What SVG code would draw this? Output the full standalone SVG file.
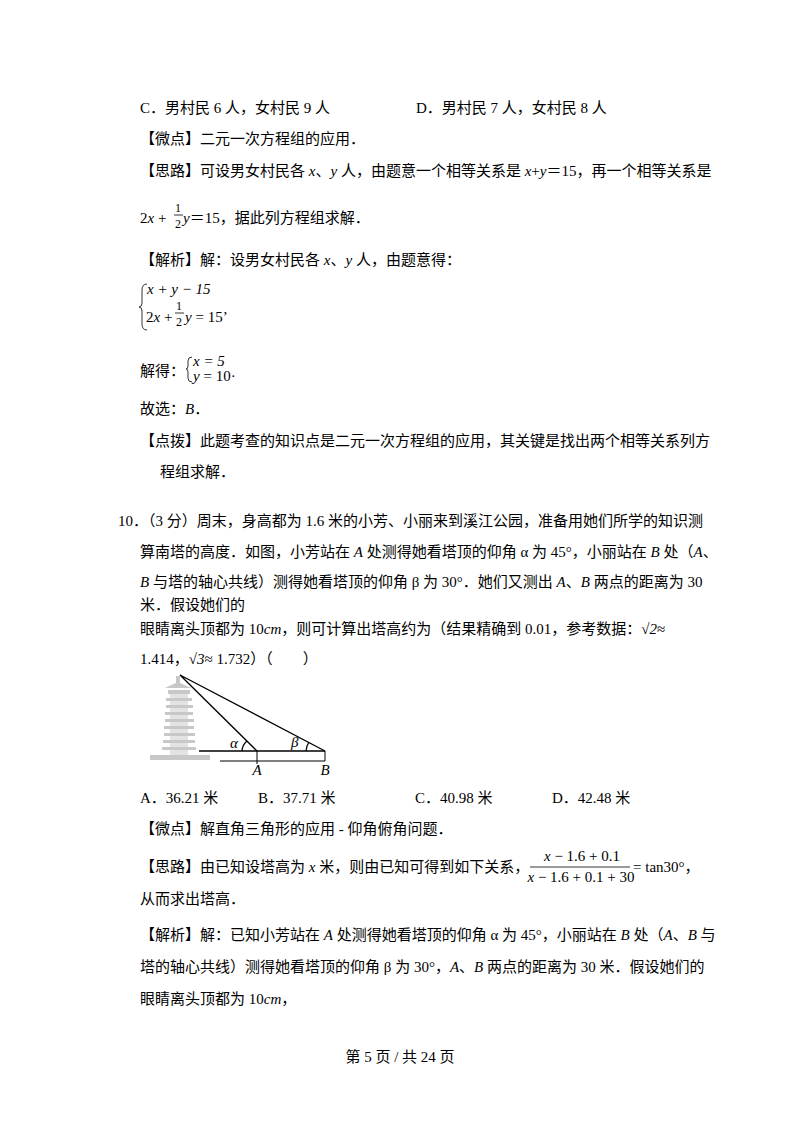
<svg xmlns="http://www.w3.org/2000/svg" width="800" height="1132" viewBox="0 0 800 1132">
<style>
text{font-family:"Liberation Serif","Noto Sans CJK SC",serif;font-size:15px;fill:#000}
.i{font-style:italic}
.s{font-size:12px}
.ln{stroke:#000;stroke-width:1.3;fill:none}
.fl{stroke:#000;stroke-width:0.8}
.tw{fill:#c8c8c8}
</style>
<rect width="800" height="1132" fill="#fff"/>
<g id="text">
<text x="140" y="113">C．男村民 6 人，女村民 9 人</text>
<text x="416" y="113">D．男村民 7 人，女村民 8 人</text>
<text x="140" y="144">【微点】二元一次方程组的应用．</text>
<text x="140" y="176">【思路】可设男女村民各 <tspan class="i">x</tspan>、<tspan class="i">y</tspan> 人，由题意一个相等关系是 <tspan class="i">x</tspan>+<tspan class="i">y</tspan>＝15，再一个相等关系是</text>
<text x="140" y="223">2<tspan class="i">x</tspan>  +</text>
<text x="175" y="212" class="s">1</text>
<line x1="174" y1="215" x2="183" y2="215" class="fl"/>
<text x="175" y="228" class="s">2</text>
<text x="183" y="223"><tspan class="i">y</tspan>＝15，据此列方程组求解．</text>
<text x="140" y="265">【解析】解：设男女村民各 <tspan class="i">x</tspan>、<tspan class="i">y</tspan> 人，由题意得：</text>
<path d="M147,284 Q142,284 142,290 L142,303 Q142,307 139,307 Q142,307 142,311 L142,324 Q142,330 147,330" class="fl" fill="none"/>
<text x="147" y="294" class="i" font-size="14">x  +  y  −  15</text>
<text x="146" y="322">2<tspan class="i">x</tspan> + </text>
<text x="176" y="310" class="s">1</text>
<line x1="175" y1="313" x2="184" y2="313" class="fl"/>
<text x="176" y="326" class="s">2</text>
<text x="185" y="322"><tspan class="i">y</tspan> = 15’</text>
<text x="140" y="376">解得：</text>
<path d="M192,357 Q188,357 188,361 L188,366 Q188,369 186,369 Q188,369 188,372 L188,378 Q188,382 192,382" class="fl" fill="none"/>
<text x="193" y="366" class="i" font-size="14">x  =  5</text>
<text x="193" y="381"><tspan class="i">y</tspan> = 10·</text>
<text x="140" y="414">故选：<tspan class="i">B</tspan>．</text>
<text x="140" y="446">【点拨】此题考查的知识点是二元一次方程组的应用，其关键是找出两个相等关系列方</text>
<text x="160" y="477">程组求解．</text>
<text x="118" y="526">10．（3 分）周末，身高都为 1.6 米的小芳、小丽来到溪江公园，准备用她们所学的知识测</text>
<text x="140" y="557">算南塔的高度．如图，小芳站在 <tspan class="i">A</tspan> 处测得她看塔顶的仰角 α 为 45°，小丽站在 <tspan class="i">B</tspan> 处（<tspan class="i">A</tspan>、</text>
<text x="140" y="587"><tspan class="i">B</tspan> 与塔的轴心共线）测得她看塔顶的仰角 β 为 30°．她们又测出 <tspan class="i">A</tspan>、<tspan class="i">B</tspan> 两点的距离为 30</text>
<text x="140" y="610">米．假设她们的</text>
<text x="140" y="634">眼睛离头顶都为 10<tspan class="i">cm</tspan>，则可计算出塔高约为（结果精确到 0.01，参考数据：√<tspan class="i">2</tspan>≈</text>
<text x="140" y="664">1.414，√<tspan class="i">3</tspan>≈ 1.732）（　　）</text>
<text x="140" y="803">A．36.21 米</text>
<text x="258" y="803">B．37.71 米</text>
<text x="415" y="803">C．40.98 米</text>
<text x="552" y="803">D．42.48 米</text>
<text x="140" y="834">【微点】解直角三角形的应用 - 仰角俯角问题．</text>
<text x="140" y="872">【思路】由已知设塔高为 <tspan class="i">x</tspan> 米，则由已知可得到如下关系，</text>
<text x="582" y="861" text-anchor="middle" font-size="13"><tspan class="i">x</tspan> − 1.6 + 0.1</text>
<line x1="530" y1="867" x2="630" y2="867" class="fl"/>
<text x="581" y="882" text-anchor="middle" font-size="13"><tspan class="i">x</tspan> − 1.6 + 0.1 + 30</text>
<text x="633" y="872">= tan30°，</text>
<text x="140" y="904">从而求出塔高．</text>
<text x="140" y="940">【解析】解：已知小芳站在 <tspan class="i">A</tspan> 处测得她看塔顶的仰角 α 为 45°，小丽站在 <tspan class="i">B</tspan> 处（<tspan class="i">A</tspan>、<tspan class="i">B</tspan> 与</text>
<text x="140" y="972">塔的轴心共线）测得她看塔顶的仰角 β 为 30°，<tspan class="i">A</tspan>、<tspan class="i">B</tspan> 两点的距离为 30 米．假设她们的</text>
<text x="140" y="1004">眼睛离头顶都为 10<tspan class="i">cm</tspan>，</text>
<text x="400" y="1062" text-anchor="middle" font-size="13">第 5 页 / 共 24 页</text>
</g>
<g id="figure">
<g class="tw">
<rect x="176" y="676" width="4" height="8"/>
<polygon points="165,688 191,688 178,682"/>
<rect x="168" y="690" width="22" height="4"/>
<rect x="166" y="698" width="26" height="3"/>
<rect x="166" y="705" width="27" height="3"/>
<rect x="165" y="712" width="28" height="3"/>
<rect x="165" y="719" width="29" height="3"/>
<rect x="164" y="726" width="30" height="3"/>
<rect x="164" y="733" width="31" height="3"/>
<rect x="163" y="740" width="32" height="3"/>
<rect x="162" y="747" width="34" height="3"/>
<rect x="170" y="690" width="18" height="65" opacity="0.5"/>
<rect x="150" y="755" width="60" height="5"/>
</g>
<path d="M180,675 L257,751 M180,675 L325,751" class="ln"/>
<path d="M199,751 L325,751" class="ln"/>
<path d="M220,761 L325,761 M257,751 L257,764 M325,751 L325,761" stroke="#000" stroke-width="1" fill="none"/>
<path d="M242,751 A14,14 0 0 1 247,741" class="ln"/>
<path d="M306,751 A18,18 0 0 1 309,742" class="ln"/>
<text x="230" y="748" class="i" font-size="12">α</text>
<text x="291" y="747" class="i" font-size="12">β</text>
<text x="257" y="775" class="i" font-size="12" text-anchor="middle">A</text>
<text x="325" y="775" class="i" font-size="12" text-anchor="middle">B</text>
</g>
</svg>
